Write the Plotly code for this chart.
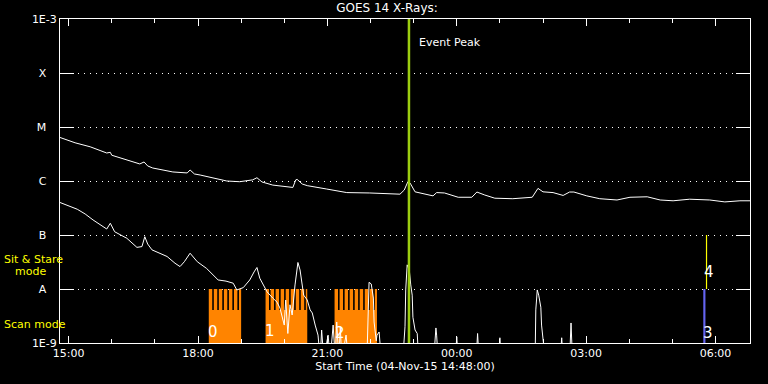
import math
import plotly.graph_objects as go
from datetime import datetime, timedelta

# ---------------- data ----------------
def ts(hm):
    parts = [int(p) for p in hm.split(":")]
    h, m = parts[0], parts[1]
    s = parts[2] if len(parts) > 2 else 0
    d = datetime(2015, 11, 4, h, m, s)
    if h < 12:
        d += timedelta(days=1)
    return d

x_range = ["14:48", "06:48"]

long_times = ["14:48", "15:09", "15:30", "15:53", "15:58", "16:00", "16:39", "16:45", "16:50", "16:57",
              "17:25", "17:45", "17:49", "17:55", "18:03", "18:40", "18:58", "19:16", "19:22", "19:29",
              "19:44", "20:12", "20:16", "20:18", "20:25", "20:32", "20:59", "21:27", "21:59", "22:41",
              "22:47", "22:52", "22:55", "23:02", "23:27", "23:32", "23:43", "00:02", "00:21", "00:28",
              "00:39", "00:53", "01:18", "01:45", "01:53", "02:00", "02:14", "02:28", "02:37", "02:43",
              "03:01", "03:19", "03:43", "04:01", "04:25", "04:43", "05:01", "05:24", "05:52", "06:13",
              "06:34", "06:48"]
long_flux = [6.4e-6, 5.1e-6, 4.3e-6, 3.3e-6, 3.4e-6, 3.0e-6, 2.07e-6, 2.25e-6, 1.9e-6, 1.74e-6,
             1.47e-6, 1.41e-6, 1.6e-6, 1.35e-6, 1.29e-6, 1.0e-6, 9.7e-7, 1.05e-6, 1.15e-6, 9.6e-7,
             8.4e-7, 7.6e-7, 1.05e-6, 1.07e-6, 8.8e-7, 8.2e-7, 7.1e-7, 6.1e-7, 6.0e-7, 5.7e-7,
             6.8e-7, 9.7e-7, 9.2e-7, 6.3e-7, 5.3e-7, 6.1e-7, 6.0e-7, 5.0e-7, 5.0e-7, 6.25e-7,
             5.5e-7, 4.8e-7, 4.7e-7, 5.0e-7, 7.3e-7, 6.3e-7, 6.1e-7, 5.4e-7, 6.25e-7, 6.25e-7,
             5.3e-7, 4.7e-7, 4.45e-7, 5.0e-7, 5.1e-7, 4.45e-7, 4.3e-7, 4.6e-7, 4.45e-7, 4.1e-7,
             4.3e-7, 4.3e-7]

short_times = ["14:48", "15:12", "15:23", "15:34", "15:53", "15:58", "16:04", "16:21", "16:35", "16:42",
               "16:46", "16:50", "16:56", "17:17", "17:28", "17:35", "17:41", "17:49", "17:59", "18:12",
               "18:28", "18:39", "18:49", "18:54", "19:03", "19:12", "19:18", "19:22", "19:26", "19:32",
               "19:36", "19:44", "19:50", "19:54", "20:00", "20:02", "20:05", "20:08", "20:11", "20:15",
               "20:19", "20:22", "20:25", "20:27", "20:32", "20:36", "20:39", "20:41", "20:43", "20:47",
               "20:50", "20:52", "20:55", "21:01", "21:04", "21:08", "21:11", "21:13", "21:16", "21:18",
               "21:20", "21:26", "21:29", "21:55", "21:58", "22:01", "22:04", "22:05", "22:08", "22:09",
               "22:12", "22:15", "22:45", "22:48", "22:49", "22:51", "22:54", "22:56", "22:58", "22:59",
               "23:02", "23:05", "23:07", "23:28", "23:31", "23:32", "23:34", "23:58", "00:00", "00:02",
               "00:27", "00:29", "00:31", "00:58", "01:00", "01:02", "01:49", "01:50", "01:52", "01:54",
               "01:57", "01:58", "02:00", "02:03", "02:24", "02:26", "02:28", "02:37", "02:39", "02:41",
               "06:48"]
short_flux = [4.0e-7, 3.0e-7, 2.45e-7, 1.9e-7, 1.29e-7, 1.65e-7, 1.15e-7, 8.7e-8, 5.9e-8, 6.1e-8,
              9.3e-8, 6.8e-8, 5.3e-8, 4.0e-8, 3.0e-8, 2.6e-8, 3.2e-8, 4.6e-8, 3.2e-8, 2.4e-8,
              1.47e-8, 1.4e-8, 1.28e-8, 9.6e-9, 1.06e-8, 1.47e-8, 2.07e-8, 2.5e-8, 1.58e-8, 1.14e-8,
              8.9e-9, 6.8e-9, 5.7e-9, 4.45e-9, 2.15e-9, 6.25e-9, 1.5e-9, 5.1e-9, 3.3e-9, 1.19e-8,
              3.1e-8, 2.25e-8, 1.19e-8, 7.7e-9, 6.25e-9, 4.1e-9, 3.6e-9, 2.7e-9, 2.15e-9, 1.4e-9,
              5e-10, 1.74e-9, 5e-10, 1.4e-9, 5e-10, 2.15e-9, 5e-10, 2.45e-9, 5e-10, 2.0e-9,
              5e-10, 1.4e-9, 5e-10, 5e-10, 1.33e-8, 1.24e-8, 6.8e-9, 2.45e-9, 1.1e-9, 1.4e-9,
              1.6e-9, 5e-10, 5e-10, 2.0e-9, 9.6e-9, 2.8e-8, 2.25e-8, 1.19e-8, 7.7e-9, 3.0e-9,
              1.74e-9, 1.5e-9, 5e-10, 5e-10, 1.9e-9, 1.4e-9, 5e-10, 5e-10, 1.3e-9, 5e-10,
              5e-10, 1.5e-9, 5e-10, 5e-10, 1.25e-9, 5e-10, 5e-10, 4.1e-9, 9.6e-9, 7.7e-9,
              4.6e-9, 2.15e-9, 1.3e-9, 5e-10, 5e-10, 1.25e-9, 5e-10, 5e-10, 2.35e-9, 5e-10,
              5e-10]

# scan-mode raster groups (orange)
scan_group_start = ["18:15", "19:34", "21:10"]
scan_group_end = ["19:00", "20:32", "22:09"]
scan_tooth_starts = [
    ["18:15", "18:22", "18:29", "18:36", "18:43", "18:50", "18:57"],
    ["19:34", "19:41", "19:48", "19:55", "20:02", "20:09", "20:16", "20:23", "20:30"],
    ["21:10", "21:17", "21:24", "21:31", "21:38", "21:45", "21:52", "21:59", "22:06"],
]
tooth_minutes = 4.8
scan_block_top = 4.1e-9
scan_top = 1e-8
scan_bottom = 1e-9

# obs 3 (blue scan) and obs 4 (yellow sit & stare)
blue_start, blue_end = "05:43", "05:46"
sas_time = "05:47:30"
sas_low, sas_high = 1e-8, 1e-7

event_peak = "22:53:30"

obs_labels = ["0", "1", "2", "3", "4"]
obs_label_times = ["18:21", "19:40", "21:17", "05:49", "05:51"]
obs_label_flux = [1.6e-9, 1.65e-9, 1.55e-9, 1.5e-9, 2.07e-8]

ytick_vals = [1e-9, 1e-8, 1e-7, 1e-6, 1e-5, 1e-4, 1e-3]
ytick_text = ["1E-9", "A", "B", "C", "M", "X", "1E-3"]

# ---------------- figure ----------------
NB = "\u00a0"
FONT = "DejaVu Sans"
fig = go.Figure()

ORANGE = "#ff8400"
px, py = [], []
for g0, g1, teeth in zip(scan_group_start, scan_group_end, scan_tooth_starts):
    a, b = ts(g0), ts(g1)
    px += [a, b, b, a, a, None]
    py += [scan_bottom * 0.5, scan_bottom * 0.5, scan_block_top, scan_block_top, scan_bottom * 0.5, None]
    for t in teeth:
        s = ts(t)
        e = min(s + timedelta(minutes=tooth_minutes), b)
        px += [s, e, e, s, s, None]
        py += [scan_bottom * 0.5, scan_bottom * 0.5, scan_top, scan_top, scan_bottom * 0.5, None]
fig.add_trace(go.Scatter(x=px, y=py, mode="lines", fill="toself", fillcolor=ORANGE,
                         line=dict(width=0, color=ORANGE), hoverinfo="skip"))

bs, be = ts(blue_start), ts(blue_end)
fig.add_trace(go.Scatter(x=[bs, be, be, bs, bs],
                         y=[scan_bottom * 0.5, scan_bottom * 0.5, scan_top, scan_top, scan_bottom * 0.5],
                         mode="lines", fill="toself", fillcolor="#6464f0", line=dict(width=0, color="#6464f0"),
                         hoverinfo="skip"))
fig.add_trace(go.Scatter(x=[ts(sas_time), ts(sas_time)], y=[sas_low, sas_high], mode="lines",
                         line=dict(color="#ffff00", width=1.2), hoverinfo="skip"))

fig.add_trace(go.Scatter(x=[ts(t) for t in long_times], y=long_flux, mode="lines",
                         line=dict(color="white", width=1)))
fig.add_trace(go.Scatter(x=[ts(t) for t in short_times], y=short_flux, mode="lines",
                         line=dict(color="white", width=1)))

fig.add_trace(go.Scatter(x=[ts(event_peak), ts(event_peak)], y=[1e-10, 1e-2], mode="lines",
                         line=dict(color="#9ccd10", width=2.5), hoverinfo="skip"))

fig.add_annotation(x=ts(event_peak), y=-3.444, xref="x", yref="y", text="Event Peak",
                   showarrow=False, xanchor="left", yanchor="middle", xshift=8,
                   font=dict(color="white", size=11, family=FONT))

for lab, t, f in zip(obs_labels, obs_label_times, obs_label_flux):
    fig.add_annotation(x=ts(t), y=math.log10(f), xref="x", yref="y", text=lab, showarrow=False,
                       xanchor="center", yanchor="middle",
                       font=dict(color="white", size=15, family=FONT))

fig.add_annotation(x=-58 / 690, y=84 / 324, xref="paper", yref="paper", text="Sit & Stare",
                   showarrow=False, xanchor="left", yanchor="middle",
                   font=dict(color="#ffff00", size=11, family=FONT))
fig.add_annotation(x=-47 / 690, y=72 / 324, xref="paper", yref="paper", text="mode",
                   showarrow=False, xanchor="left", yanchor="middle",
                   font=dict(color="#ffff00", size=11, family=FONT))
fig.add_annotation(x=-58 / 690, y=19 / 324, xref="paper", yref="paper", text="Scan mode",
                   showarrow=False, xanchor="left", yanchor="middle",
                   font=dict(color="#ffff00", size=11, family=FONT))

ytext = [t if len(t) > 1 else t + NB * 3 for t in ytick_text]

fig.update_layout(
    width=768, height=384,
    margin=dict(l=60, r=18, t=19, b=41),
    paper_bgcolor="black", plot_bgcolor="black",
    showlegend=False,
    font=dict(family=FONT, color="white", size=11),
    title=dict(text="GOES 14 X-Rays:", x=387 / 768, xref="container", xanchor="center",
               y=1 - 8 / 384, yref="container", yanchor="middle",
               font=dict(size=12, color="white", family=FONT)),
    xaxis=dict(
        type="date", range=[ts(x_range[0]), ts(x_range[1])],
        tick0=ts("15:00"), dtick=3 * 3600000, tickformat="%H:%M",
        ticks="inside", ticklen=7, tickcolor="white", tickwidth=1,
        minor=dict(tick0=ts("15:00"), dtick=3600000, ticks="inside", ticklen=4, tickcolor="white",
                   showgrid=False),
        showline=True, linecolor="white", linewidth=1, mirror="allticks",
        showgrid=False, zeroline=False,
        tickfont=dict(color="white", size=11),
        title=dict(text="Start Time (04-Nov-15 14:48:00)", standoff=2, font=dict(color="white", size=11)),
    ),
    yaxis=dict(
        type="log", range=[-9, -3],
        tickvals=ytick_vals, ticktext=ytext,
        ticks="inside", ticklen=14, tickcolor="white", tickwidth=1,
        showline=True, linecolor="white", linewidth=1, mirror="allticks",
        showgrid=True, gridcolor="white", gridwidth=1, griddash="1px,5px",
        zeroline=False,
        tickfont=dict(color="white", size=11),
    ),
)

fig.write_html("out.html", config={"displayModeBar": False},
               post_script="document.body.style.margin='0px';")
